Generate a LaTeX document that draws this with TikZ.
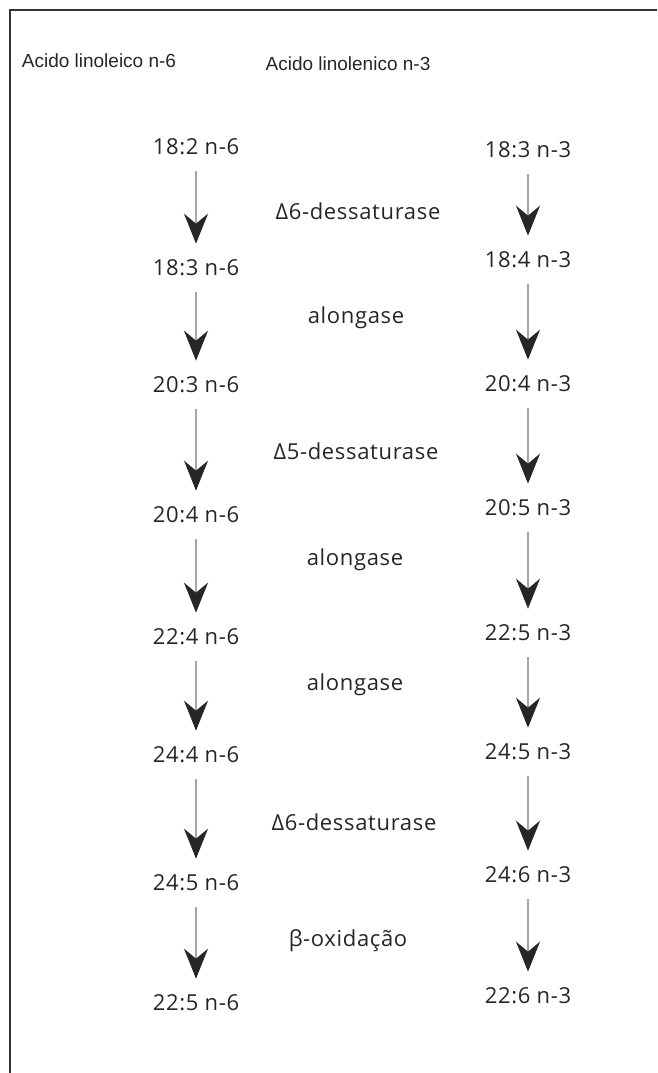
\documentclass[tikz,border=0pt]{standalone}
\usepackage{fontspec}
\setmainfont{Open Sans}[LetterSpace=3]
\newfontfamily\headfont{Liberation Sans}
\usetikzlibrary{arrows.meta,positioning}
\tikzset{
acid/.style={inner sep=0pt, font=\fontsize{22}{24}\selectfont, text=black!85},
enzyme/.style={inner sep=0pt, font=\fontsize{22}{24}\selectfont, text=black!85},
header/.style={inner sep=0pt, font=\headfont\fontsize{19}{21}\selectfont, text=black!85},
conv/.style={draw=black!35, line width=2pt, shorten <=16pt, shorten >=16pt,
  -{Stealth[length=30pt, width=24pt, inset=10pt, color=black!85]}},
frame_line/.style={draw=black!80, line width=1.3pt}
}

\begin{document}
\begin{tikzpicture}[x=1pt, y=-1pt]
    \useasboundingbox (0,0) rectangle (657,1073);
    \draw[frame_line] (657,10) -- (10,10) -- (10,1073);

    % headers
    \node[header] (head_6) at (99,61) {Acido linoleico n-6};
    \node[header] (head_3) at (348,64) {Acido linolenico n-3};

    % n-6 column
    \node[acid] (n6_1) at (196,147) {18:2 n-6};
    \node[acid] (n6_2) at (196,268) {18:3 n-6};
    \node[acid] (n6_3) at (196,385) {20:3 n-6};
    \node[acid] (n6_4) at (196,515) {20:4 n-6};
    \node[acid] (n6_5) at (196,637) {22:4 n-6};
    \node[acid] (n6_6) at (196,755) {24:4 n-6};
    \node[acid] (n6_7) at (196,883) {24:5 n-6};
    \node[acid] (n6_8) at (196,1003) {22:5 n-6};

    % n-3 column
    \node[acid] (n3_1) at (528,150) {18:3 n-3};
    \node[acid] (n3_2) at (528,260) {18:4 n-3};
    \node[acid] (n3_3) at (528,384) {20:4 n-3};
    \node[acid] (n3_4) at (528,508) {20:5 n-3};
    \node[acid] (n3_5) at (528,633) {22:5 n-3};
    \node[acid] (n3_6) at (528,752) {24:5 n-3};
    \node[acid] (n3_7) at (528,875) {24:6 n-3};
    \node[acid] (n3_8) at (528,996) {22:6 n-3};

    % enzymes
    \node[enzyme] (enz_1) at (358,211) {Δ6-dessaturase};
    \node[enzyme] (enz_2) at (356,318) {alongase};
    \node[enzyme] (enz_3) at (356,451) {Δ5-dessaturase};
    \node[enzyme] (enz_4) at (355,560) {alongase};
    \node[enzyme] (enz_5) at (355,685) {alongase};
    \node[enzyme] (enz_6) at (354,822) {Δ6-dessaturase};
    \node[enzyme] (enz_7) at (348,941) {β-oxidação};

    \draw[conv] (n6_1) -- (n6_2);
    \draw[conv] (n6_2) -- (n6_3);
    \draw[conv] (n6_3) -- (n6_4);
    \draw[conv] (n6_4) -- (n6_5);
    \draw[conv] (n6_5) -- (n6_6);
    \draw[conv] (n6_6) -- (n6_7);
    \draw[conv] (n6_7) -- (n6_8);

    \draw[conv] (n3_1) -- (n3_2);
    \draw[conv] (n3_2) -- (n3_3);
    \draw[conv] (n3_3) -- (n3_4);
    \draw[conv] (n3_4) -- (n3_5);
    \draw[conv] (n3_5) -- (n3_6);
    \draw[conv] (n3_6) -- (n3_7);
    \draw[conv] (n3_7) -- (n3_8);
\end{tikzpicture}
\end{document}
